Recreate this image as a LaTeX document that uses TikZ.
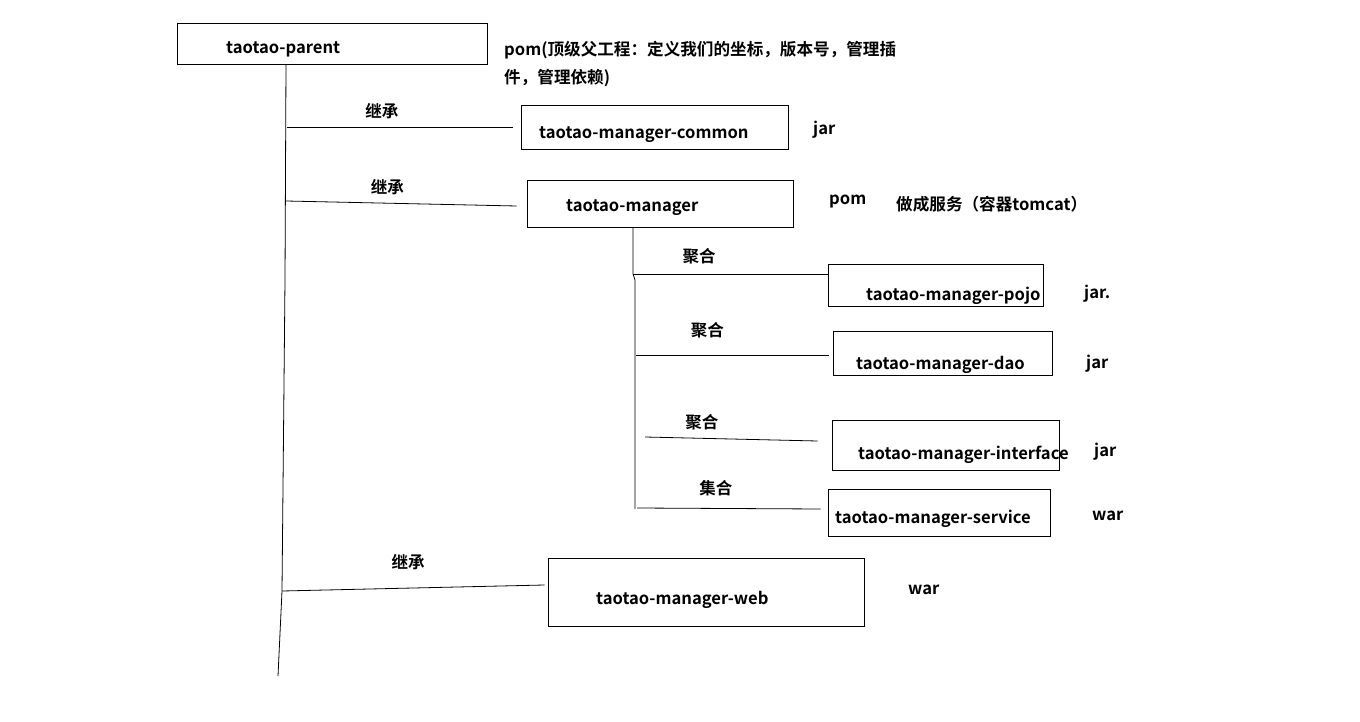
\documentclass[tikz,border=0pt]{standalone}
\usepackage{fontspec}
\setmainfont{Noto Sans CJK SC}[BoldFont={* Bold}]
\begin{document}
\begin{tikzpicture}[x=1pt,y=-1pt,
  box/.style={draw,line width=0.8pt,inner sep=0pt},
  txt/.style={anchor=west,inner sep=0pt,yshift=-3pt,font=\bfseries\fontsize{16.6}{28}\selectfont},
  lbl/.style={inner sep=0pt,font=\bfseries\fontsize{16.5}{18}\selectfont},
  link/.style={line width=0.8pt}]
\useasboundingbox (0,0) rectangle (1360,722);
% boxes
\node[box,minimum width=310pt,minimum height=41pt] (parent) at (332,43.5) {};
\node[box,minimum width=267pt,minimum height=44pt] (common) at (654.5,127) {};
\node[box,minimum width=266pt,minimum height=47pt] (manager) at (660,203.5) {};
\node[box,minimum width=215pt,minimum height=42pt] (pojo) at (935.5,285) {};
\node[box,minimum width=219pt,minimum height=44pt] (dao) at (942.5,353) {};
\node[box,minimum width=227pt,minimum height=50pt] (interface) at (945.5,445) {};
\node[box,minimum width=222pt,minimum height=47pt] (service) at (939,512.5) {};
\node[box,minimum width=316pt,minimum height=68pt] (web) at (706,592) {};
% names and packaging
\node[txt] (parent-t) at (226,46) {taotao-parent};
\node[txt,align=left] (parent-p) at (504,61) {pom(顶级父工程：定义我们的坐标，版本号，管理插\\件，管理依赖)};
\node[txt] (common-t) at (539,132) {taotao-manager-common};
\node[txt] (common-p) at (813,127) {jar};
\node[txt] (manager-t) at (566,205) {taotao-manager};
\node[txt] (manager-p) at (829,199) {pom};
\node[txt] (manager-n) at (896,201) {做成服务（容器tomcat）};
\node[txt] (pojo-t) at (866,293) {taotao-manager-pojo};
\node[txt] (pojo-p) at (1084,291) {jar.};
\node[txt] (dao-t) at (856,362) {taotao-manager-dao};
\node[txt] (dao-p) at (1086,361) {jar};
\node[txt] (interface-t) at (858,452) {taotao-manager-interface};
\node[txt] (interface-p) at (1094,449) {jar};
\node[txt] (service-t) at (835,516) {taotao-manager-service};
\node[txt] (service-p) at (1092,513) {war};
\node[txt] (web-t) at (596,597) {taotao-manager-web};
\node[txt] (web-p) at (908,587) {war};
% trunk of taotao-parent
\coordinate (t0) at (parent.south -| 286,0);
\coordinate (t1) at (287,127);
\coordinate (t2) at (286,201);
\coordinate (t3) at (282,591);
\coordinate (tend) at (278,676);
\draw[link] (t0) -- (285,280) -- (t3) -- (tend);
\draw[link] (t1) -- ([xshift=-8pt]common.west) node[lbl,pos=0.42,above=8pt] {继承};
\draw[link] (t2) -- ([xshift=-10pt,yshift=-2.5pt]manager.west) node[lbl,pos=0.44,above=8pt] {继承};
\draw[link] (t3) -- ([xshift=-3pt,yshift=7pt]web.west) node[lbl,pos=0.48,above=18pt] {继承};
% trunk of taotao-manager
\coordinate (m0) at (manager.south -| 633,0);
\coordinate (m1) at (633,274);
\coordinate (m2) at (636,355);
\coordinate (m3) at (645,437);
\coordinate (m4) at (637,508);
\draw[link] (m0) -- (m1) -- (635,280) -- (635,509);
\draw[link] (m1) -- ([yshift=11pt]pojo.west) node[lbl,pos=0.34,above=10pt] {聚合};
\draw[link] (m2) -- ([xshift=-4pt,yshift=-2pt]dao.west) node[lbl,pos=0.37,above=17pt] {聚合};
\draw[link] (m3) -- ([xshift=-14pt,yshift=4pt]interface.west) node[lbl,pos=0.33,above=8pt] {聚合};
\draw[link] (m4) -- ([xshift=-7pt,yshift=3.5pt]service.west) node[lbl,pos=0.43,above=12pt] {集合};
\end{tikzpicture}
\end{document}
